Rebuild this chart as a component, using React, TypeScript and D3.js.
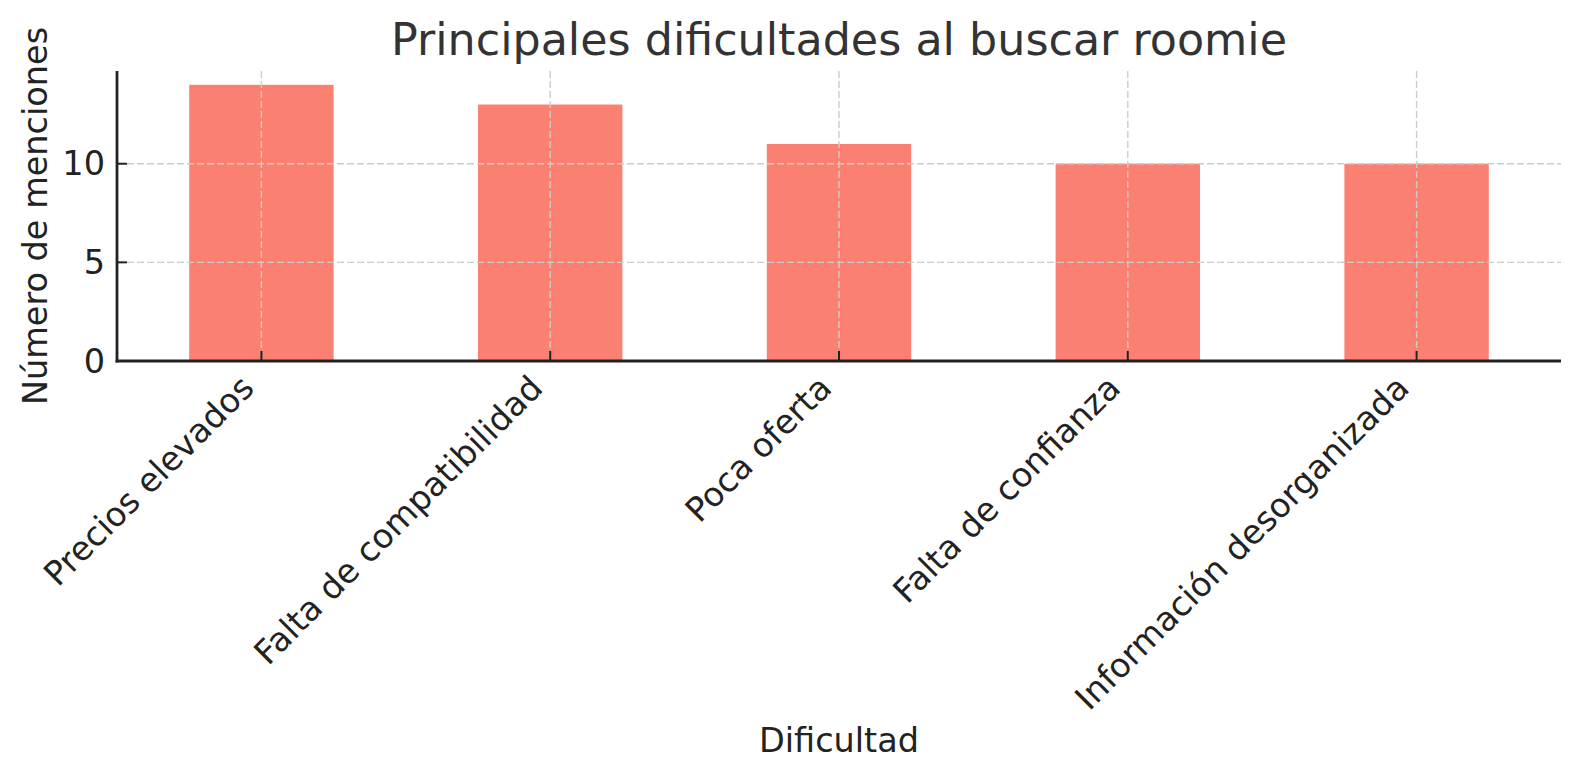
import React from "react";
import * as d3 from "d3";

const categories = [
  "Precios elevados",
  "Falta de compatibilidad",
  "Poca oferta",
  "Falta de confianza",
  "Información desorganizada",
];
const values = [14, 13, 11, 10, 10];
const yTicks = [0, 5, 10];

const W = 1579;
const H = 780;
const M = { left: 117, right: 1561, top: 71, bottom: 361 };
const FONT = "'DejaVu Sans', sans-serif";

export default function App() {
  const x = d3.scaleLinear().domain([-0.5, categories.length - 0.5]).range([M.left, M.right]);
  const y = d3.scaleLinear().domain([0, d3.max(values)! * 1.05]).range([M.bottom, M.top]);
  const barW = x(0.5) - x(0);
  const fs = 33.5;

  return (
    <svg width={W} height={H} style={{ position: "absolute", left: 0, top: 0 }}>
      <rect width={W} height={H} fill="#fff" />
      {categories.map((c, i) => (
        <rect
          key={c}
          x={x(i) - barW / 2}
          y={y(values[i])}
          width={barW}
          height={y(0) - y(values[i])}
          fill="#FA8072"
        />
      ))}
      {/* grid */}
      {categories.map((c, i) => (
        <line key={"gx" + i} x1={x(i)} x2={x(i)} y1={M.top} y2={M.bottom}
          stroke="#cccccc" strokeWidth={1.4} strokeDasharray="7,3" />
      ))}
      {yTicks.map((t) => (
        <line key={"gy" + t} x1={M.left} x2={M.right} y1={y(t)} y2={y(t)}
          stroke="#cccccc" strokeWidth={1.4} strokeDasharray="7,3" />
      ))}
      {/* ticks inward */}
      {categories.map((c, i) => (
        <line key={"tx" + i} x1={x(i)} x2={x(i)} y1={M.bottom} y2={M.bottom - 10}
          stroke="#222" strokeWidth={2} />
      ))}
      {yTicks.map((t) => (
        <line key={"ty" + t} x1={M.left} x2={M.left + 10} y1={y(t)} y2={y(t)}
          stroke="#222" strokeWidth={2} />
      ))}
      {/* spines */}
      <line x1={M.left} x2={M.left} y1={M.top} y2={M.bottom + 1.4} stroke="#222" strokeWidth={2.8} />
      <line x1={M.left - 1.4} x2={M.right} y1={M.bottom} y2={M.bottom} stroke="#222" strokeWidth={2.8} />
      {/* y tick labels */}
      {yTicks.map((t) => (
        <text key={"yl" + t} x={105} y={y(t)} textAnchor="end" dominantBaseline="central"
          fontFamily={FONT} fontSize={fs} fill="#222">{t}</text>
      ))}
      {/* x tick labels */}
      {categories.map((c, i) => {
        const bx = x(i) - 0.236 * fs * 0.707;
        const by = M.bottom + 7 + 0.928 * fs * 0.707;
        return (
          <text key={"xl" + i} transform={`translate(${bx},${by}) rotate(-45)`} textAnchor="end"
            fontFamily={FONT} fontSize={fs} fill="#222">{c}</text>
        );
      })}
      {/* axis labels */}
      <text x={(M.left + M.right) / 2} y={752} textAnchor="middle" fontFamily={FONT} fontSize={fs} fill="#222">
        Dificultad
      </text>
      <text transform={`translate(47,${(M.top + M.bottom) / 2}) rotate(-90)`} textAnchor="middle"
        fontFamily={FONT} fontSize={fs} fill="#222">Número de menciones</text>
      <text x={(M.left + M.right) / 2} y={55} textAnchor="middle" fontFamily={FONT} fontSize={44.4} fill="#333">
        Principales dificultades al buscar roomie
      </text>
    </svg>
  );
}
